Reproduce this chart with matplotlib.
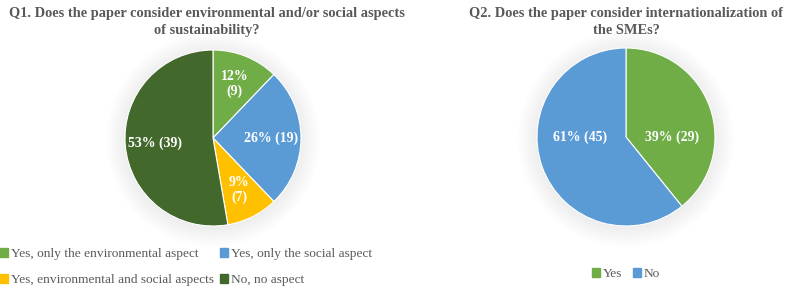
import matplotlib
matplotlib.use('Agg')
import matplotlib.pyplot as plt
from matplotlib.patches import Patch, Circle
import numpy as np

## DONNEES
q1_labels = ['Yes, only the environmental aspect', 'Yes, only the social aspect',
             'Yes, environmental and social aspects', 'No, no aspect']
q1_counts = [9, 19, 7, 39]
q1_pct = [12, 26, 9, 53]
q1_colors = ['#70AD47', '#5B9BD5', '#FFC000', '#43682B']

q2_labels = ['Yes', 'No']
q2_counts = [29, 45]
q2_pct = [39, 61]
q2_colors = ['#70AD47', '#5B9BD5']

plt.rcParams['font.family'] = ['Liberation Serif', 'DejaVu Serif']
gray = '#595959'

W, H = 790, 286
fig = plt.figure(figsize=(W / 100, H / 100), dpi=100)


def pie_axes(cx, cy, r):
    # position en pixels -> fraction de figure
    return fig.add_axes([(cx - r) / W, (H - cy - r) / H, 2 * r / W, 2 * r / H])


def draw_pie(ax, counts, colors, label_text, label_pos=None):
    # ombre douce autour du camembert
    for i in range(18):
        ax.add_patch(Circle((0, -0.02), 1.0 + 0.013 * i, color='black',
                            alpha=0.005, lw=0, zorder=0, clip_on=False))
    wedges, _ = ax.pie(counts, colors=colors, startangle=90, counterclock=False,
                       wedgeprops=dict(lw=0.8, edgecolor='white'))
    for w in wedges:
        w.set_zorder(2)
    for i, w in enumerate(wedges):
        if label_pos is None:
            ang = np.deg2rad((w.theta1 + w.theta2) / 2)
            x, y = 0.66 * np.cos(ang), 0.66 * np.sin(ang)
        else:
            x, y = label_pos[i]
        ax.text(x, y, label_text[i], ha='center', va='center', color='white',
                fontsize=10, fontweight='bold', zorder=3, linespacing=1.15)
    ax.set_xlim(-1, 1)
    ax.set_ylim(-1, 1)
    ax.set_aspect('equal')
    ax.axis('off')
    return wedges


ax1 = pie_axes(213, 138, 88)
q1_text = ['%d%%\n(%d)' % (p, c) if p < 20 else '%d%% (%d)' % (p, c)
           for p, c in zip(q1_pct, q1_counts)]
draw_pie(ax1, q1_counts, q1_colors, q1_text)

ax2 = pie_axes(626, 137, 89)
q2_text = ['%d%% (%d)' % (p, c) for p, c in zip(q2_pct, q2_counts)]
draw_pie(ax2, q2_counts, q2_colors, q2_text,
         label_pos=[(0.52, 0), (-0.52, 0)])

fig.text(207 / W, 1 - 22 / H,
         'Q1. Does the paper consider environmental and/or social aspects\nof sustainability?',
         ha='center', va='center', fontsize=10.4, fontweight='bold', color=gray,
         linespacing=1.45)
fig.text(626 / W, 1 - 22 / H,
         'Q2. Does the paper consider internationalization of\nthe SMEs?',
         ha='center', va='center', fontsize=10.4, fontweight='bold', color=gray,
         linespacing=1.45)

# ordre ligne par ligne comme dans Excel
order = [0, 2, 1, 3]
h1 = [Patch(color=q1_colors[i]) for i in order]
fig.legend(h1, [q1_labels[i] for i in order], loc='upper left',
           bbox_to_anchor=(0.0, 1 - 248 / H),
           ncol=2, frameon=False, fontsize=9.6, labelcolor=gray,
           handlelength=0.6, handleheight=0.6, handletextpad=0.2,
           columnspacing=0.5, labelspacing=1.05, borderpad=0, borderaxespad=0)

h2 = [Patch(color=c) for c in q2_colors]
fig.legend(h2, q2_labels, loc='upper center', bbox_to_anchor=(626 / W, 1 - 268 / H),
           ncol=2, frameon=False, fontsize=9.6, labelcolor=gray,
           handlelength=0.6, handleheight=0.6, handletextpad=0.2,
           columnspacing=0.8, borderpad=0, borderaxespad=0)

fig.savefig('out.png', dpi=100, facecolor='white')
